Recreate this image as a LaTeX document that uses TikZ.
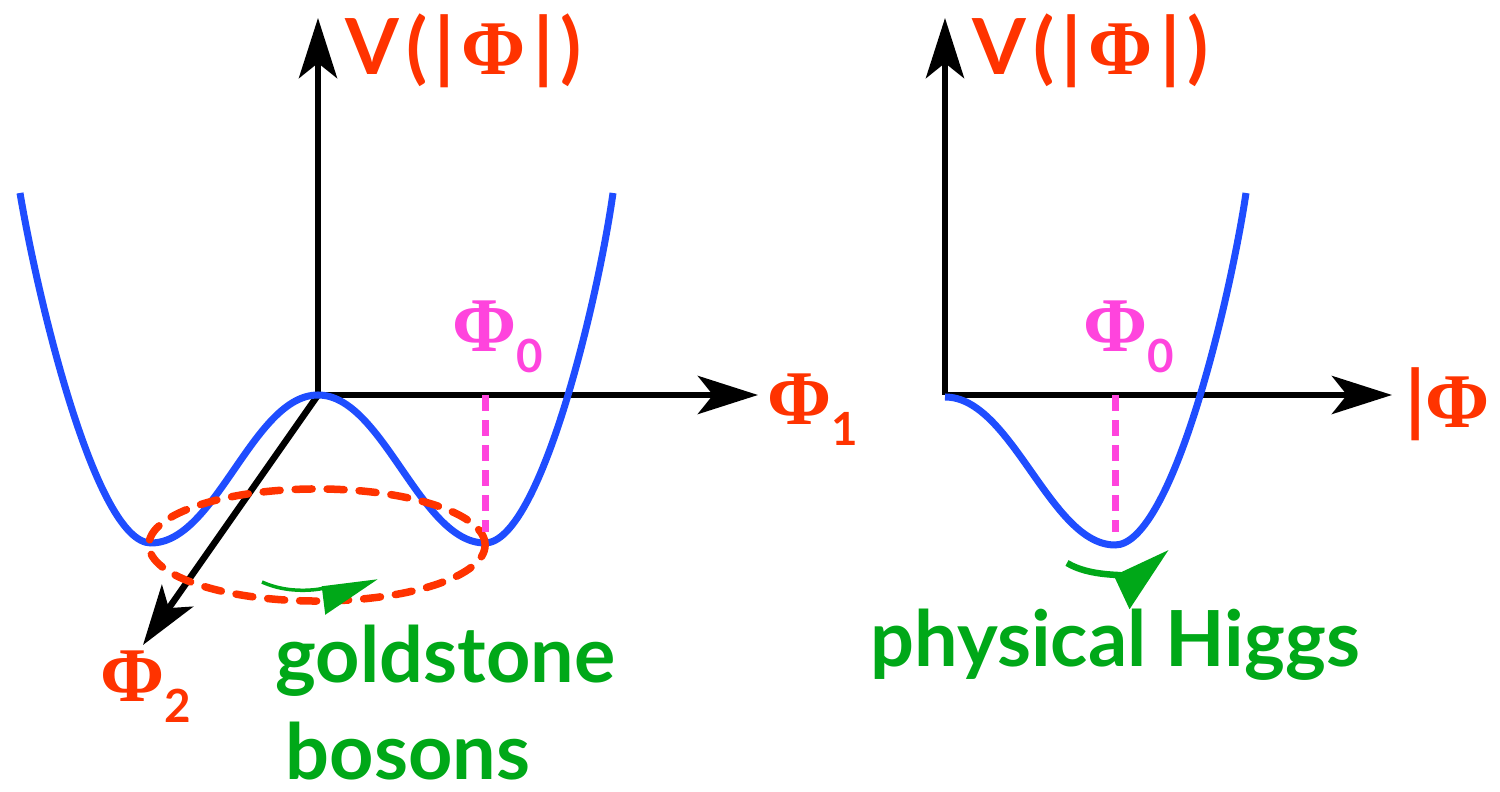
\documentclass[tikz,border=0pt]{standalone}
\usepackage{fontspec}
\setmainfont{Lato}
\newfontfamily\phifont{Liberation Serif}
\usetikzlibrary{positioning,arrows.meta}
\definecolor{cred}{HTML}{FF3300}
\definecolor{cblue}{HTML}{1F4DFF}
\definecolor{cmag}{HTML}{FF44DD}
\definecolor{cgreen}{HTML}{00A818}
\newcommand{\lowsub}[1]{\raisebox{-0.2cm}{\fontsize{13}{15}\selectfont #1}}
\newcommand{\potlab}{V\kern2pt(\kern2pt|\kern2pt{\phifont Φ}\kern2pt|\kern2pt)}
\tikzset{
  axis/.style={line width=0.065cm, -{Stealth[length=0.6cm, width=0.38cm, inset=0.15cm]}},
  pot/.style={cblue, line width=0.07cm},
  vev/.style={cmag, line width=0.07cm, dash pattern=on 0.16cm off 0.09cm},
  ring/.style={cred, line width=0.075cm, line cap=round, dash pattern=on 0.17cm off 0.15cm},
  turn/.style={cgreen, -{Triangle[harpoon, swap, length=#1]}},
  lab/.style={font=\fontsize{22}{26}\selectfont\bfseries, inner sep=0pt, anchor=base west},
  say/.style={cgreen, font=\fontsize{22}{26}\selectfont\bfseries, inner sep=0pt, anchor=base west},
}

\begin{document}
\begin{tikzpicture}[x=0.01cm, y=-0.01cm]
  \useasboundingbox (0,0) rectangle (1500,792);
  % left: Mexican hat in the (Phi1, Phi2) plane
  \coordinate (oL) at (318,395);
  \coordinate (yL) at (318,18);
  \coordinate (xL) at (758,395);
  \coordinate (zL) at (143,645);
  \coordinate (minL) at (485,543);
  \draw[axis] (oL) -- (yL);
  \draw[axis] (oL) -- (xL);
  \draw[axis] (oL) -- (zL);
  \draw[pot] (20,193) .. controls (38,300) and (96,543) .. (151,543)
    .. controls (216,543) and (253,395) .. (oL)
    .. controls (383,395) and (420,543) .. (minL)
    .. controls (540,543) and (598,300) .. (613,193);
  \draw[ring] (317,545) ellipse [x radius=1.68cm, y radius=0.56cm];
  \draw[vev] (minL |- oL) -- ([yshift=0.11cm]minL);
  \coordinate (gA) at (262,582);
  \coordinate (gB) at (378,581);
  \draw[turn={0.53cm, width=0.53cm}, line width=0.035cm] (gA) .. controls (295,597) and (330,587) .. (gB);
  \node[lab, cred] (vL) at (345,75) {\potlab};
  \node[lab, cred] (phione) at (767,425) {{\phifont Φ}\lowsub{1}};
  \node[lab, cred] (phitwo) at (100,702) {{\phifont Φ}\lowsub{2}};
  \node[lab, cmag] (vevL) at (452,352) {{\phifont Φ}\lowsub{0}};
  \node[say] (gold) at (275,683) {goldstone};
  \node[say] (bos) at (285,780) {bosons};

  % right: radial profile
  \coordinate (oR) at (945,395);
  \coordinate (yR) at (945,18);
  \coordinate (xR) at (1392,395);
  \coordinate (minR) at (1115,545);
  \draw[axis] (oR) -- (yR);
  \draw[axis] (oR) -- (xR);
  \draw[pot] (945,397) .. controls (1012,397) and (1050,545) .. (minR)
    .. controls (1172,545) and (1230,300) .. (1246,193);
  \draw[vev] (minR |- oR) -- ([yshift=0.13cm]minR);
  \coordinate (hA) at (1067,563);
  \coordinate (hB) at (1170,553);
  \draw[turn={0.55cm, width=0.66cm}, line width=0.065cm] (hA) .. controls (1090,577) and (1125,574) .. (hB);
  \node[lab, cred] (vR) at (972,75) {\potlab};
  \node[lab, cmag] (vevR) at (1083,352) {{\phifont Φ}\lowsub{0}};
  \node[lab, cred] (modR) at (1405,428) {|{\phifont Φ}};
  \node[say] (higgs) at (870,667) {physical Higgs};
\end{tikzpicture}
\end{document}
